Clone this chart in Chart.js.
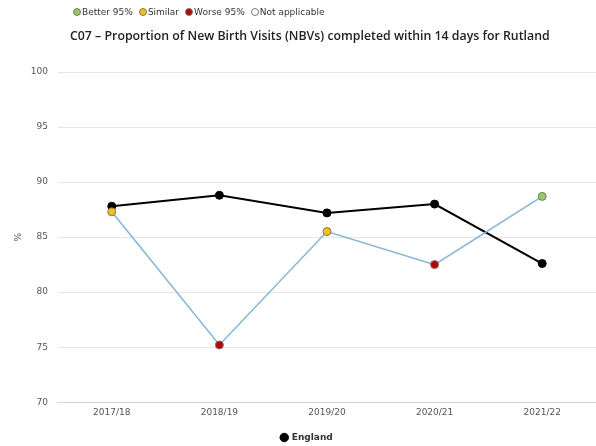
<!DOCTYPE html>
<html><head><meta charset="utf-8">
<script src="https://cdn.jsdelivr.net/npm/chart.js@4/dist/chart.umd.min.js"></script>
<style>
html,body{margin:0;padding:0;background:#fff;overflow:hidden;}
#wrap{position:relative;width:596px;height:446px;overflow:hidden;}
#c{position:absolute;left:0;top:0;}
#leg{position:absolute;left:73px;top:7px;font:9px "DejaVu Sans",sans-serif;color:#333;white-space:nowrap;}
#leg span.d{display:inline-block;width:8px;height:8px;border-radius:50%;border:1px solid #777;box-sizing:border-box;vertical-align:-1px;margin-right:1px;}
#leg span.i{margin-right:6px;}
#ttl{position:absolute;left:70px;top:27px;font-family:"Open Sans","DejaVu Sans",sans-serif;font-weight:600;color:#222;white-space:nowrap;line-height:1;}
</style></head>
<body><div id="wrap"><canvas id="c" width="601" height="446"></canvas>
<div id="leg"></div><div id="ttl"></div></div>
<script>
const categories = ["2017/18","2018/19","2019/20","2020/21","2021/22"];
const englandValues = [87.8, 88.8, 87.2, 88.0, 82.6];
const rutlandValues = [87.3, 75.2, 85.5, 82.5, 88.7];
const rutlandSignificance = ["Similar","Worse 95%","Similar","Worse 95%","Better 95%"];
const legendItems = ["Better 95%","Similar","Worse 95%","Not applicable"];
const legendColors = {"Better 95%":"#8fd14f","Similar":"#ffc000","Worse 95%":"#c00000","Not applicable":"#ffffff"};
const titleText = "C07 – Proportion of New Birth Visits (NBVs) completed within 14 days for Rutland";

const leg = document.getElementById('leg');
legendItems.forEach(k=>{
  const s=document.createElement('span');s.className='i';
  s.innerHTML='<span class="d" style="background:'+legendColors[k]+'"></span>'+k;
  leg.appendChild(s);
});
const ttl=document.getElementById('ttl');
ttl.textContent=titleText;
let fs=13; ttl.style.fontSize=fs+'px';
const w=ttl.getBoundingClientRect().width;
fs=fs*480/w; ttl.style.fontSize=fs+'px';
ttl.style.top=(37-fs*0.55)+'px';

new Chart(document.getElementById('c'), {
  type:'line',
  data:{labels:categories,datasets:[
    {label:'England',data:englandValues,borderColor:'#000',backgroundColor:'#000',borderWidth:2,
     pointRadius:4,pointHoverRadius:4,pointBackgroundColor:'#000',pointBorderColor:'#000',pointBorderWidth:1,order:2},
    {label:'Rutland',data:rutlandValues,borderColor:'#7cb5ec',backgroundColor:'#7cb5ec',borderWidth:1.5,
     pointRadius:4,pointHoverRadius:4,pointBackgroundColor:rutlandSignificance.map(s=>legendColors[s]),
     pointBorderColor:'#777',pointBorderWidth:1,order:1}
  ]},
  options:{
    responsive:false,animation:false,
    layout:{padding:{left:13,right:0,top:72,bottom:-6}},
    plugins:{
      title:{display:false},
      legend:{position:'bottom',labels:{filter:i=>i.text==='England',usePointStyle:true,pointStyle:'circle',boxWidth:6,boxHeight:6,color:'#333',font:{family:'DejaVu Sans',size:9,weight:'bold'},padding:9}},
      tooltip:{enabled:false}
    },
    scales:{
      x:{offset:true,grid:{display:false,offset:true,tickLength:0,drawTicks:false},border:{color:'#ccd6eb'},ticks:{color:'#555',font:{family:'DejaVu Sans',size:9},padding:5.5}},
      y:{min:70,max:100,ticks:{stepSize:5,color:'#555',font:{family:'DejaVu Sans',size:9},padding:10},
         grid:{color:'#e6e6e6',drawTicks:false},border:{display:false},
         title:{display:true,text:'%',color:'#555',font:{family:'DejaVu Sans',size:9},padding:{top:0,bottom:-3}}}
    }
  }
});
</script></body></html>
